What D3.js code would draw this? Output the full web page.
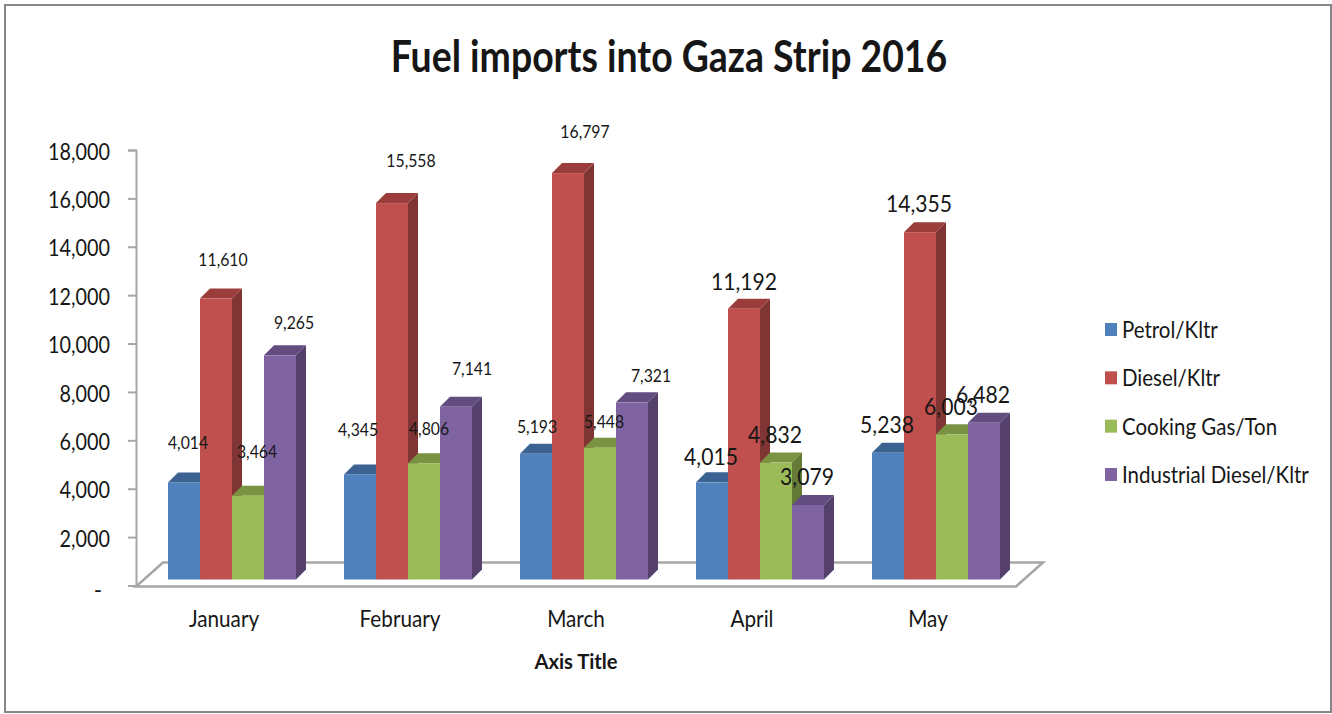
<!DOCTYPE html>
<html>
<head>
<meta charset="utf-8">
<script src="https://cdn.jsdelivr.net/npm/d3@7"></script>
<style>
  html, body { margin: 0; padding: 0; background: #fff; }
  svg { display: block; }
  text { font-family: Lato, "Open Sans", sans-serif; fill: #161616; }
</style>
</head>
<body>
<div id="chart"></div>
<script>
const months = ["January", "February", "March", "April", "May"];
const seriesNames = ["Petrol/Kltr", "Diesel/Kltr", "Cooking Gas/Ton", "Industrial Diesel/Kltr"];
const petrol = [4014, 4345, 5193, 4015, 5238];
const diesel = [11610, 15558, 16797, 11192, 14355];
const cookingGas = [3464, 4806, 5448, 4832, 6003];
const industrialDiesel = [9265, 7141, 7321, 3079, 6482];
const yTicks = [0, 2000, 4000, 6000, 8000, 10000, 12000, 14000, 16000, 18000];

const seriesValues = [petrol, diesel, cookingGas, industrialDiesel];

// face, top, side
const colors = [
  ["#4f81bd", "#3c6291", "#324f75"],
  ["#c0504d", "#9b3e3b", "#7f3533"],
  ["#9bbb59", "#7a9342", "#657a37"],
  ["#8064a2", "#634d80", "#54406b"]
];

// label nudges by eye, [dx, dy] from the top of each bar, the original has them hand placed
const labelNudge = [
  [[4, -40], [7, -39], [9, -44], [14, -32]],
  [[-2, -45], [19, -42], [5, -34], [16, -38]],
  [[1, -27], [17, -41], [4, -26], [19, -26]],
  [[-1, -26], [0, -27], [-1, -28], [-1, -28]],
  [[-1, -28], [-1, -28], [-1, -27], [-1, -28]]
];
const labelSize = [17.5, 17.5, 17.5, 23.5, 23.5];

const width = 1332, height = 714;
const depth = 10;      // 3d offset of bars
const floorRise = 6;   // bars stand this far above the axis zero

// Lato runs wider than the original font, so squeeze each text a bit
function condense(sel, k) {
  sel.each(function () {
    const len = this.getComputedTextLength();
    d3.select(this)
      .attr("textLength", len * k)
      .attr("lengthAdjust", "spacingAndGlyphs");
  });
  return sel;
}

const svg = d3.select("#chart").append("svg")
  .attr("width", width)
  .attr("height", height);

svg.append("rect")
  .attr("x", 5).attr("y", 5)
  .attr("width", 1326).attr("height", 707)
  .attr("fill", "#fff")
  .attr("stroke", "#868686")
  .attr("stroke-width", 2);

svg.append("text")
  .attr("x", 669).attr("y", 72)
  .attr("text-anchor", "middle")
  .style("font-size", "43px")
  .style("font-weight", 700)
  .text("Fuel imports into Gaza Strip 2016")
  .call(condense, 0.87);

// ==== Scales ====
const x = d3.scaleBand().domain(months).range([136, 1016]);
const xInner = d3.scaleBand().domain(seriesNames).range([32, 160]);
const y = d3.scaleLinear().domain([0, 18000]).range([585.5, 150]);

// ==== Floor ====
const fx0 = x.range()[0], fx1 = x.range()[1];
svg.append("path")
  .attr("d", `M${fx0},${y(0) + 1}L${fx1},${y(0) + 1}L${fx1 + 27},${y(0) - 23}L${fx0 + 27},${y(0) - 23}Z`)
  .attr("fill", "#fff")
  .attr("stroke", "#a6a6a6")
  .attr("stroke-width", 2.5);

// ==== Axes ====
const yAxis = svg.append("g")
  .attr("transform", `translate(${fx0},0)`)
  .call(d3.axisLeft(y)
    .tickValues(yTicks)
    .tickSize(8)
    .tickPadding(18)
    .tickFormat(d => d === 0 ? "-" : d3.format(",")(d)));
yAxis.selectAll("path, line").attr("stroke", "#a6a6a6").attr("stroke-width", 2);
yAxis.selectAll("text")
  .style("font-size", "22.5px")
  .attr("fill", "#161616")
  .attr("transform", d => d === 0 ? "translate(-8,5)" : "translate(0,2)")
  .filter(d => d !== 0)
  .call(condense, 0.88);

const xAxis = svg.append("g")
  .attr("transform", `translate(0,${y(0)})`)
  .call(d3.axisBottom(x).tickSize(0).tickPadding(26));
xAxis.select(".domain").remove();
xAxis.selectAll("text")
  .style("font-size", "22.5px")
  .attr("fill", "#161616")
  .call(condense, 0.92);

svg.append("text")
  .attr("x", 576).attr("y", 669)
  .attr("text-anchor", "middle")
  .style("font-size", "21px")
  .style("font-weight", 700)
  .text("Axis Title")
  .call(condense, 0.96);

// ==== Bars ====
months.forEach((m, mi) => {
  const g = svg.append("g");
  seriesNames.forEach((s, si) => {
    const v = seriesValues[si][mi];
    const bx = x(m) + xInner(s);
    const bw = xInner.bandwidth();
    const top = y(v) - floorRise;
    const base = y(0) - floorRise;
    g.append("path")
      .attr("fill", colors[si][2])
      .attr("d", `M${bx + bw},${top}L${bx + bw + depth},${top - depth}L${bx + bw + depth},${base - depth}L${bx + bw},${base}Z`);
    g.append("path")
      .attr("fill", colors[si][1])
      .attr("d", `M${bx},${top}L${bx + depth},${top - depth}L${bx + bw + depth},${top - depth}L${bx + bw},${top}Z`);
    g.append("rect")
      .attr("x", bx).attr("y", top)
      .attr("width", bw).attr("height", base - top)
      .attr("fill", colors[si][0]);
  });
});

// ==== Data labels ====
months.forEach((m, mi) => {
  seriesNames.forEach((s, si) => {
    const v = seriesValues[si][mi];
    const nudge = labelNudge[mi][si];
    svg.append("text")
      .attr("x", x(m) + xInner(s) + xInner.bandwidth() / 2 + nudge[0])
      .attr("y", y(v) - 6 + nudge[1])
      .attr("dy", "0.35em")
      .attr("text-anchor", "middle")
      .style("font-size", labelSize[mi] + "px")
      .text(d3.format(",")(v))
      .call(condense, 0.9);
  });
});

// ==== Legend ====
const legendY = d3.scalePoint().domain(seriesNames).range([330, 475]);
seriesNames.forEach((s, si) => {
  svg.append("rect")
    .attr("x", 1105).attr("y", legendY(s) - 7)
    .attr("width", 12).attr("height", 13)
    .attr("fill", colors[si][0]);
  svg.append("text")
    .attr("x", 1122).attr("y", legendY(s))
    .attr("dy", "0.35em")
    .style("font-size", "22.5px")
    .text(s)
    .call(condense, 0.91);
});
</script>
</body>
</html>
